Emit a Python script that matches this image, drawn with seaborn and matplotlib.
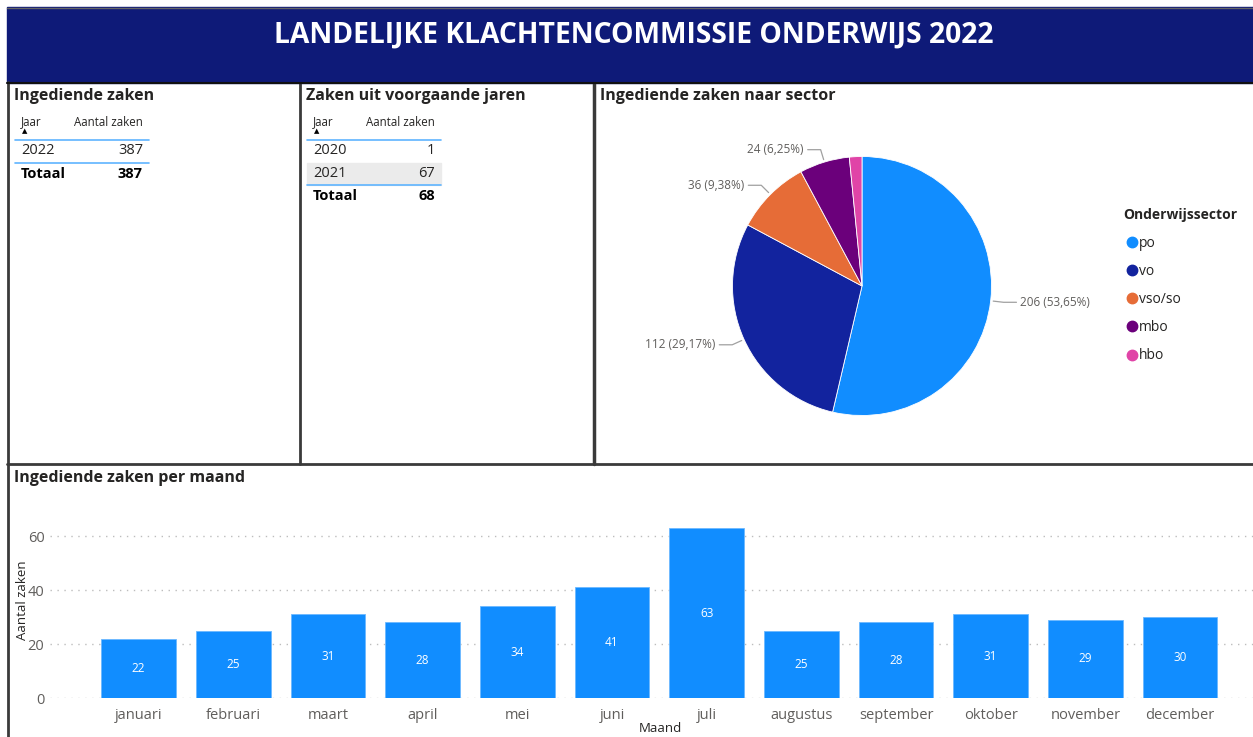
import matplotlib
matplotlib.use("Agg")
import matplotlib.pyplot as plt
from matplotlib.patches import Rectangle
from matplotlib.lines import Line2D
import seaborn as sns
import numpy as np

W, H = 1253, 737

title = "LANDELIJKE KLACHTENCOMMISSIE ONDERWIJS 2022"

# tabel 1: ingediende zaken
jaar_nu = ["2022"]
zaken_nu = [387]
# tabel 2: zaken uit voorgaande jaren
jaar_eerder = ["2020", "2021"]
zaken_eerder = [1, 67]

# taart: sectoren
sectors = ["po", "vo", "vso/so", "mbo", "hbo"]
sector_counts = [206, 112, 36, 24, 6]
sector_colors = ["#118DFF", "#12239E", "#E66C37", "#6B007B", "#E044A7"]

# staaf: per maand
months = ["januari", "februari", "maart", "april", "mei", "juni", "juli",
          "augustus", "september", "oktober", "november", "december"]
month_counts = [22, 25, 31, 28, 34, 41, 63, 25, 28, 31, 29, 30]

NAVY = "#0E1A78"
DARK = "#252423"
GREY = "#605E5C"
LINE_BLUE = "#5FB4FF"

sns.set_theme(style="white")
plt.rcParams["font.family"] = ["Open Sans", "DejaVu Sans"]

fig = plt.figure(figsize=(W / 100, H / 100), dpi=100)


def box(x0, y0, x1, y1):
    return [x0 / W, 1 - y1 / H, (x1 - x0) / W, (y1 - y0) / H]


def txt(x, y, s, **kw):
    kw.setdefault("va", "center")
    return fig.text(x / W, 1 - y / H, s, **kw)


def hline(x0, x1, y, **kw):
    fig.add_artist(Line2D([x0 / W, x1 / W], [1 - y / H, 1 - y / H], **kw))


def vline(x, y0, y1, **kw):
    fig.add_artist(Line2D([x / W, x / W], [1 - y0 / H, 1 - y1 / H], **kw))


# header band
fig.add_artist(Rectangle((7 / W, 1 - 83 / H), (W - 7) / W, 76 / H,
                         transform=fig.transFigure, color=NAVY, zorder=0))
hline(7, W, 7.5, color="#666666", lw=1)
txt(634, 35, title, ha="center", color="white", fontsize=20.3, fontweight="bold")

# panel borders
border = dict(color="#3a3a3a", lw=2)
vline(8, 82, H, **border)
vline(300, 83, 464, **border)
vline(594, 83, 464, color="#3a3a3a", lw=2.5)
hline(7, W, 464, **border)
hline(7, W, 83, color="#111111", lw=1.5)


def table(x0, title_txt, jaren, zaken, shade_row=None):
    txt(x0 + 6, 96, title_txt, fontsize=11.5, fontweight="bold", color=DARK)
    left = x0 + 13
    right = x0 + 135
    txt(left, 122, "Jaar", fontsize=8.3, color=DARK)
    txt(right, 122, "Aantal zaken", fontsize=8.3, color=DARK, ha="right")
    txt(left + 4, 131.5, "\u25B2", fontsize=5, color="black", ha="center")
    hline(x0 + 7, x0 + 141, 139.5, color=LINE_BLUE, lw=1.2)
    y = 151
    for i, (j, z) in enumerate(zip(jaren, zaken)):
        if i == shade_row:
            fig.add_artist(Rectangle(((x0 + 7) / W, 1 - (y + 11) / H),
                                     134 / W, 22 / H,
                                     transform=fig.transFigure, color="#EBEBEB", zorder=0))
        txt(left, y, j, fontsize=10.5, color=DARK)
        txt(right, y, str(z), fontsize=10.5, color=DARK, ha="right")
        y += 22.5
    hline(x0 + 7, x0 + 141, y - 11, color=LINE_BLUE, lw=1.2)
    txt(left, y, "Totaal", fontsize=10.5, fontweight="bold", color="black")
    txt(right, y, str(sum(zaken)), fontsize=10.5, fontweight="bold", color="black", ha="right")


table(8, "Ingediende zaken", jaar_nu, zaken_nu)
table(300, "Zaken uit voorgaande jaren", jaar_eerder, zaken_eerder, shade_row=1)

# pie chart
txt(600, 96, "Ingediende zaken naar sector", fontsize=11.5, fontweight="bold", color=DARK)
ax_pie = fig.add_axes(box(732.5, 156.5, 991.5, 415.5))
wedges, _ = ax_pie.pie(sector_counts, colors=sector_colors, startangle=90,
                       counterclock=False, radius=1,
                       wedgeprops=dict(linewidth=0.6, edgecolor="white"))
ax_pie.set_xlim(-1, 1)
ax_pie.set_ylim(-1, 1)
total = sum(sector_counts)
for w, v in zip(wedges, sector_counts):
    pct = 100 * v / total
    if pct < 3:
        continue
    ang = np.deg2rad((w.theta1 + w.theta2) / 2)
    c, s = np.cos(ang), np.sin(ang)
    side = 1 if c >= 0 else -1
    p0 = (1.02 * c, 1.02 * s)
    p1 = (1.10 * c, 1.10 * s)
    p2 = (p1[0] + side * 0.10, p1[1])
    ax_pie.plot([p0[0], p1[0], p2[0]], [p0[1], p1[1], p2[1]], color="#A0A0A0",
                lw=0.9, clip_on=False)
    label = f"{v} ({pct:.2f}%)".replace(".", ",")
    ax_pie.text(p2[0] + side * 0.03, p2[1], label, ha="left" if side > 0 else "right",
                va="center", fontsize=8.5, color=GREY, clip_on=False)

handles = [Line2D([], [], marker="o", linestyle="", markersize=7.5, color=c)
           for c in sector_colors]
leg = fig.legend(handles, sectors, title="Onderwijssector", loc="upper left",
                 bbox_to_anchor=(1111 / W, 1 - 196 / H), frameon=False,
                 fontsize=10, labelspacing=0.95, handletextpad=-0.1,
                 handlelength=1.2, alignment="left")
leg.get_title().set_fontweight("bold")
leg.get_title().set_fontsize(10)
leg.get_title().set_color(DARK)
for t in leg.get_texts():
    t.set_color(DARK)

# bar chart
txt(14, 478, "Ingediende zaken per maand", fontsize=11.5, fontweight="bold", color=DARK)
ax = fig.add_axes(box(50, 520, W, 698))
sns.barplot(x=months, y=month_counts, ax=ax, color="#118DFF", saturation=1,
            width=0.79, edgecolor="#6CB9FF", linewidth=0.6)
ax.set_xlim(-0.935, 11.77)
ax.set_ylim(0, 66)
ax.set_yticks([0, 20, 40, 60])
ax.yaxis.grid(True, linestyle=(0, (1, 4)), color="#BDBDBD", lw=1)
ax.set_axisbelow(True)
for sp in ax.spines.values():
    sp.set_visible(False)
ax.tick_params(axis="both", length=0, colors=GREY, labelsize=10.5)
ax.tick_params(axis="x", pad=7)
ax.tick_params(axis="y", pad=4)
ax.bar_label(ax.containers[0], label_type="center", color="white", fontsize=8.5)
ax.set_ylabel("Aantal zaken", fontsize=9.5, color=DARK)
ax.yaxis.set_label_coords((29 - 50) / (W - 50), 0.55)
ax.set_xlabel("Maand", fontsize=9.5, color=DARK)
ax.xaxis.set_label_coords((660 - 50) / (W - 50), -(722 - 698) / 178)

fig.savefig("out.png", dpi=100)
